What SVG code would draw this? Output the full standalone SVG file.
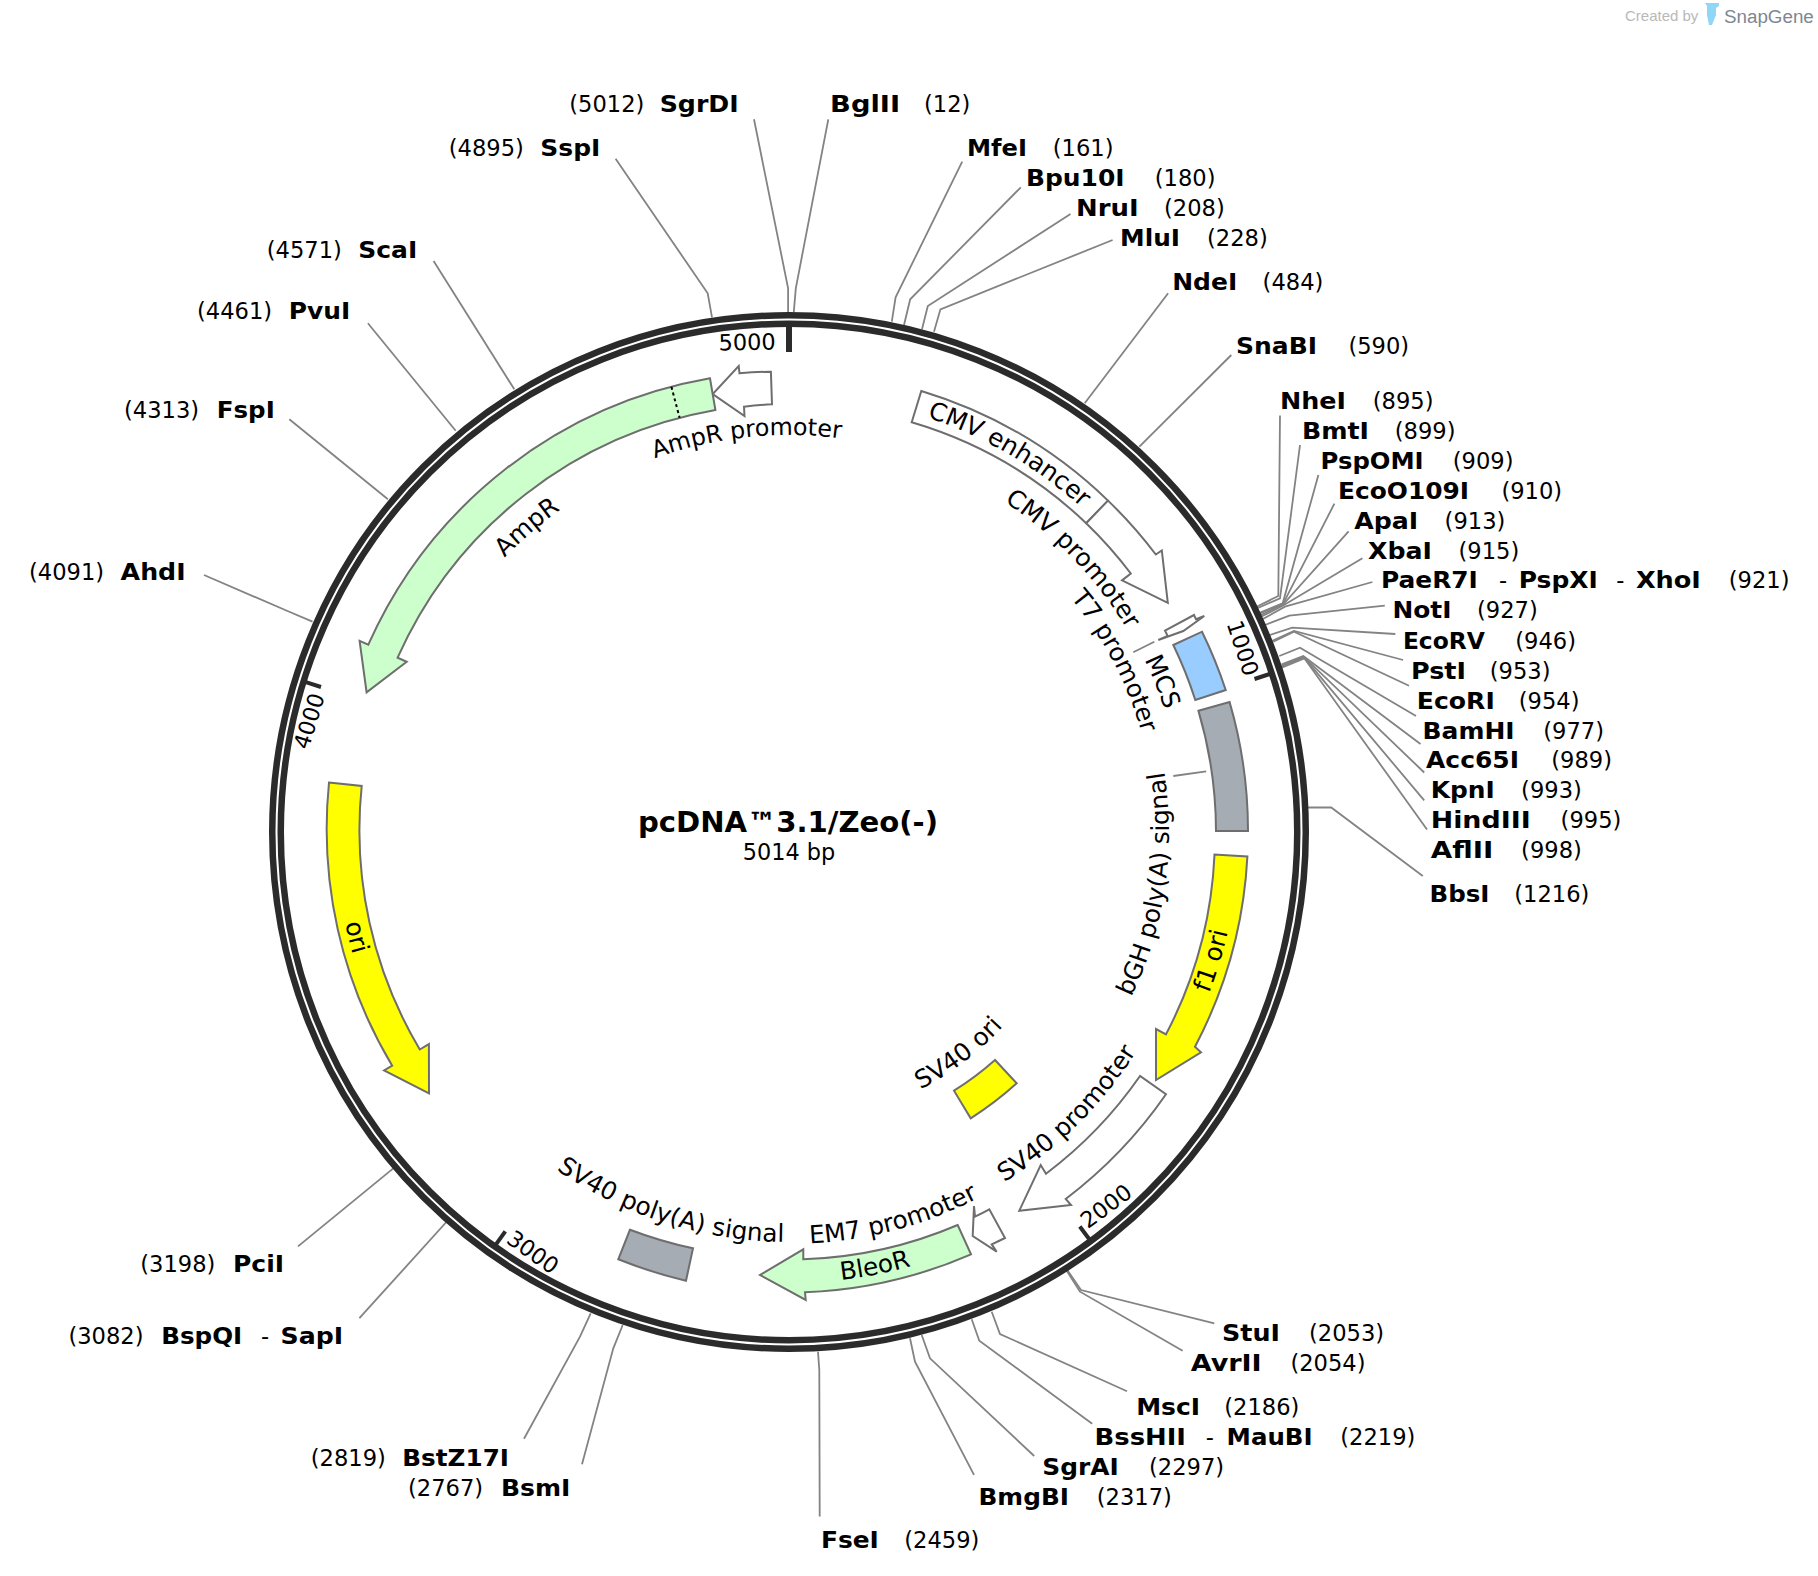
<svg xmlns="http://www.w3.org/2000/svg" width="1818" height="1576" viewBox="0 0 1818 1576">
<style>
text{font-family:"DejaVu Sans",Verdana,sans-serif;fill:#000}
.name{font-size:23px;font-weight:700}
.num{font-size:22.6px}
.lab{font-size:24.8px;text-anchor:middle}
.tick{font-size:22.4px;text-anchor:middle}
.f{stroke:#6e6e6e;stroke-width:2;stroke-linejoin:miter}
.green{fill:#ccffcc}.yellow{fill:#ffff00}.blue{fill:#99ccff}.gray{fill:#a6acb4}.white{fill:#fff}
.ring{fill:none;stroke:#2b2b2b;stroke-width:6.5}
.tk{stroke:#2b2b2b;stroke-width:4;fill:none}
#connectors polyline{fill:none;stroke:#838383;stroke-width:1.8}
</style>
<defs>
<path id="p1" d="M789 1229A397 397 0 1 1 789 435A397 397 0 1 1 789 1229"/>
<path id="p2" d="M789 1227A395 395 0 1 1 789 437A395 395 0 1 1 789 1227"/>
<path id="p3" d="M789 1269A437 437 0 1 1 789 395A437 437 0 1 1 789 1269"/>
<path id="p4" d="M789 1226A394 394 0 1 1 789 438A394 394 0 1 1 789 1226"/>
<path id="p5" d="M789 1198A366 366 0 1 1 789 466A366 366 0 1 1 789 1198"/>
<path id="p7" d="M789 452A380 380 0 1 0 789 1212A380 380 0 1 0 789 452"/>
<path id="p8" d="M789 382A450 450 0 1 0 789 1282A450 450 0 1 0 789 382"/>
<path id="p9" d="M789 421A411 411 0 1 0 789 1243A411 411 0 1 0 789 421"/>
<path id="p10" d="M789 543A289 289 0 1 0 789 1121A289 289 0 1 0 789 543"/>
<path id="p11" d="M789 420A412 412 0 1 0 789 1244A412 412 0 1 0 789 420"/>
<path id="p12" d="M789 381A451 451 0 1 0 789 1283A451 451 0 1 0 789 381"/>
<path id="p13" d="M789 422A410 410 0 1 0 789 1242A410 410 0 1 0 789 422"/>
<path id="p14" d="M789 379A453 453 0 1 0 789 1285A453 453 0 1 0 789 379"/>
</defs>
<rect width="1818" height="1576" fill="#fff"/>
<g id="logo">
<text x="1625" y="21" style="font-family:'Liberation Sans',sans-serif;font-size:15px;fill:#b9b9b9">Created by</text>
<path d="M1705 3H1719V6L1716 8V15L1712 25H1709L1707 15V6Z" fill="#8fd6f8"/>
<text x="1724" y="23" style="font-family:'Liberation Sans',sans-serif;font-size:18.8px;fill:#7d8791">SnapGene</text>
</g>
<g id="connectors">
<polyline points="754,119.3 788.1,288.3 788.1,312"/>
<polyline points="828.3,119.3 795.8,288.3 793.8,312"/>
<polyline points="615.6,158.8 707.7,293.3 712,317.3"/>
<polyline points="962.2,161.7 895.6,297.3 891.8,321.7"/>
<polyline points="1020.8,187.3 910.2,299.3 904,325"/>
<polyline points="1070.5,214 927.8,306 922,329.3"/>
<polyline points="1112.6,240 940.4,309.3 934,331.7"/>
<polyline points="1168.1,293.3 1084.7,403.3"/>
<polyline points="1231.3,355 1139.4,446.7"/>
<polyline points="1280,415.4 1278.3,596 1256.7,606.7"/>
<polyline points="1300,445 1280,598.3 1257.3,608.3"/>
<polyline points="1318.4,475 1282.7,603.3 1258.3,613.3"/>
<polyline points="1334.4,503.6 1283.3,603.3 1258.3,614.3"/>
<polyline points="1348.6,531.4 1283.3,604.3 1259.3,615.7"/>
<polyline points="1362.4,558.2 1284,605 1260,617.3"/>
<polyline points="1372.4,582 1285,606.7 1261,620"/>
<polyline points="1384.8,605.7 1289.3,615.7 1265,625"/>
<polyline points="1395.3,634 1292.3,627.7 1270,635"/>
<polyline points="1403.1,660 1294,631 1272.3,640.7"/>
<polyline points="1409,685.7 1294,631.7 1273.3,641.7"/>
<polyline points="1416,716 1300,647.7 1279.3,656"/>
<polyline points="1420.5,744 1303.3,656 1281.7,664.3"/>
<polyline points="1424.2,772.5 1303.7,656.7 1281.7,665.3"/>
<polyline points="1424.2,800.4 1304,657.3 1281.7,666.3"/>
<polyline points="1427,829.6 1304.3,658.3 1281.7,667.7"/>
<polyline points="1422.8,876 1331.2,807.5 1307,807.5"/>
<polyline points="1214.3,1323.3 1081,1290 1067.3,1270"/>
<polyline points="1182.6,1350.7 1080,1291.7 1066.7,1270.7"/>
<polyline points="1127,1391.3 1000,1334 991.7,1311.7"/>
<polyline points="1092.2,1423.8 979.3,1340.7 971.7,1319.3"/>
<polyline points="1034.2,1456 930,1358.3 921.7,1335"/>
<polyline points="974,1474.8 915,1361.7 910,1338.3"/>
<polyline points="819.7,1516.5 819.3,1370 818,1351.7"/>
<polyline points="582,1464.3 613.3,1348.3 622.7,1325"/>
<polyline points="524,1438.8 580,1336.7 590.7,1313.3"/>
<polyline points="359.4,1318.2 446.4,1222"/>
<polyline points="298,1246.4 394.2,1167.6"/>
<polyline points="204,575 287.5,611 312.5,621.7"/>
<polyline points="289.3,419.3 387.9,499.3"/>
<polyline points="367.9,323.3 455.7,430.7"/>
<polyline points="433.6,260.9 514.3,389.3"/>
<polyline points="1133.3,652.3 1154.3,641.7"/>
<polyline points="1173.3,776 1206.2,771.4"/>
</g>
<g id="backbone">
<circle class="ring" cx="789" cy="832" r="516.75"/>
<circle class="ring" cx="789" cy="832" r="508.25"/>
<path class="tk" d="M1269.7 674L1254.5 679M1089.3 1239.3L1079.8 1226.5M496 1244.4L505.3 1231.4M305.8 682.2L321 687"/>
<path class="tk" style="stroke-width:6" d="M789 326V352"/>
<text class="tick" transform="translate(747,342) rotate(-1)" y="8">5000</text>
<text class="tick" transform="translate(1243,648) rotate(72)" y="8">1000</text>
<text class="tick" transform="translate(1106,1206) rotate(-36.4)" y="8">2000</text>
<text class="tick" transform="translate(533,1252) rotate(35.4)" y="8">3000</text>
<text class="tick" transform="translate(309,721) rotate(-72.8)" y="8">4000</text>
</g>
<g id="feature-AmpR-promoter">
<path class="f white" d="M770.9 371.7A460.5 460.5 0 0 0 739.5 373.3L738.7 366L712.7 394L744.5 416L744 406.7A428 428 0 0 1 772 404.3Z"/>
<text class="lab" style="font-size:23.8px"><textPath href="#p1" startOffset="48.3%">AmpR promoter</textPath></text>
</g>
<g id="feature-AmpR">
<path class="f green" d="M710 378.3A460.5 460.5 0 0 0 368.3 644.7L359.6 640.8L366.6 692.3L406.7 661.8L397.6 657.7A428.5 428.5 0 0 1 715.4 410Z"/>
<path d="M671.4 386.8L679.6 417.7" stroke="#000" stroke-width="2" stroke-dasharray="3 3" fill="none"/>
<text class="lab"><textPath href="#p2" startOffset="38.7%">AmpR</textPath></text>
</g>
<g id="feature-CMV-enhancer">
<path class="f white" d="M921.3 391A460.5 460.5 0 0 1 1108 500.6L1086.2 523.2A428.5 428.5 0 0 0 911.7 422.3Z"/>
<text class="lab"><textPath href="#p3" startOffset="58.4%">CMV enhancer</textPath></text>
</g>
<g id="feature-CMV-promoter">
<path class="f white" d="M1108 500.6A460.5 460.5 0 0 1 1155.8 554.5L1161.8 550.4L1167.8 602.9L1122 580.4L1130.8 573.5A428.5 428.5 0 0 0 1086.2 523.2Z"/>
<text class="lab"><textPath href="#p4" startOffset="62.8%">CMV promoter</textPath></text>
</g>
<g id="feature-T7-promoter">
<path class="f white" d="M1165 630.7L1194 615L1196 619.3L1204.3 616L1183.3 631L1158.3 640L1167.7 636Z"/>
<text class="lab"><textPath href="#p5" startOffset="67.3%">T7 promoter</textPath></text>
</g>
<g id="feature-MCS">
<path class="f blue" d="M1173.3 645L1202 631.7A459 459 0 0 1 1225.7 690L1195.3 700A427 427 0 0 0 1173.3 645Z"/>
<text class="lab"><textPath href="#p2" startOffset="68.9%">MCS</textPath></text>
</g>
<g id="feature-bGH-polyA-signal">
<path class="f gray" d="M1198.4 710.7L1229.6 702.1A459.5 459.5 0 0 1 1248 831L1216 831A427.5 427.5 0 0 0 1198.4 710.7Z"/>
<text class="lab"><textPath href="#p7" startOffset="72.7%">bGH poly(A) signal</textPath></text>
</g>
<g id="feature-f1-ori">
<path class="f yellow" d="M1247.4 856.4A459.5 459.5 0 0 1 1195 1046.7L1201 1052.3L1156 1080L1156 1029L1166 1034.3A427.5 427.5 0 0 0 1214.5 854.6Z"/>
<text class="lab"><textPath href="#p8" startOffset="70.3%">f1 ori</textPath></text>
</g>
<g id="feature-SV40-promoter">
<path class="f white" d="M1166 1094.3A459.5 459.5 0 0 1 1065.7 1199L1071 1205L1019.3 1210.7L1040.7 1165L1046 1173.7A427.5 427.5 0 0 0 1140 1076Z"/>
<text class="lab"><textPath href="#p9" startOffset="62.4%">SV40 promoter</textPath></text>
</g>
<g id="feature-SV40-ori">
<path class="f yellow" d="M954 1090.7A307 307 0 0 0 995 1060L1016.7 1083.3A339 339 0 0 1 970.7 1118.3Z"/>
<text class="lab"><textPath href="#p10" startOffset="60.4%">SV40 ori</textPath></text>
</g>
<g id="feature-EM7-promoter">
<path class="f white" d="M1005 1238A459.5 459.5 0 0 1 991.7 1244.3L996.7 1251.7L972.7 1236L974 1206L975 1216.7A428 428 0 0 0 989.3 1209.3Z"/>
<text class="lab"><textPath href="#p11" startOffset="54.2%">EM7 promoter</textPath></text>
</g>
<g id="feature-BleoR">
<path class="f green" d="M971 1254.3A460 460 0 0 1 805 1292.3L805.7 1300L760 1275L803.3 1249.3L803.3 1259.3A428 428 0 0 0 957.7 1225Z"/>
<text class="lab"><textPath href="#p12" startOffset="53.1%">BleoR</textPath></text>
</g>
<g id="feature-SV40-polyA-signal">
<path class="f gray" d="M630 1229.7L618.3 1259.3A460 460 0 0 0 686 1280.7L693 1248.3A428 428 0 0 1 630 1229.7Z"/>
<text class="lab"><textPath href="#p13" startOffset="45.1%">SV40 poly(A) signal</textPath></text>
</g>
<g id="feature-ori">
<path class="f yellow" d="M329 782.6L361.7 786A428.5 428.5 0 0 0 419.8 1049.5L428.9 1044.1L429 1093.3L384.1 1070.5L392.2 1065.7A460.5 460.5 0 0 1 329 782.6Z"/>
<text class="lab"><textPath href="#p14" startOffset="28.8%">ori</textPath></text>
</g>
<g id="title">
<text x="788" y="832" text-anchor="middle" textLength="300" lengthAdjust="spacingAndGlyphs" style="font-size:28px;font-weight:700">pcDNA™3.1/Zeo(-)</text>
<text class="tick" x="789" y="860">5014 bp</text>
</g>
<g id="site-SgrDI"><text class="num" x="569.3" y="111.5">(5012)</text><text class="name" x="659.7" y="111.5" textLength="79" lengthAdjust="spacingAndGlyphs">SgrDI</text></g>
<g id="site-BglII"><text class="name" x="830.1" y="111.5" textLength="70" lengthAdjust="spacingAndGlyphs">BglII</text><text class="num" x="924" y="111.5">(12)</text></g>
<g id="site-SspI"><text class="num" x="448.7" y="155.5">(4895)</text><text class="name" x="540.3" y="155.5" textLength="60" lengthAdjust="spacingAndGlyphs">SspI</text></g>
<g id="site-MfeI"><text class="name" x="967" y="155.5" textLength="60" lengthAdjust="spacingAndGlyphs">MfeI</text><text class="num" x="1052.7" y="155.5">(161)</text></g>
<g id="site-Bpu10I"><text class="name" x="1026" y="185.5" textLength="98.6" lengthAdjust="spacingAndGlyphs">Bpu10I</text><text class="num" x="1154.8" y="185.5">(180)</text></g>
<g id="site-NruI"><text class="name" x="1076" y="216" textLength="62.6" lengthAdjust="spacingAndGlyphs">NruI</text><text class="num" x="1164" y="216">(208)</text></g>
<g id="site-MluI"><text class="name" x="1120" y="246.2" textLength="60" lengthAdjust="spacingAndGlyphs">MluI</text><text class="num" x="1207" y="246.2">(228)</text></g>
<g id="site-ScaI"><text class="num" x="266.7" y="257.8">(4571)</text><text class="name" x="358.3" y="257.8" textLength="59" lengthAdjust="spacingAndGlyphs">ScaI</text></g>
<g id="site-NdeI"><text class="name" x="1172.2" y="290.2" textLength="65" lengthAdjust="spacingAndGlyphs">NdeI</text><text class="num" x="1262.6" y="290.2">(484)</text></g>
<g id="site-PvuI"><text class="num" x="197" y="319.2">(4461)</text><text class="name" x="288.7" y="319.2" textLength="61.5" lengthAdjust="spacingAndGlyphs">PvuI</text></g>
<g id="site-SnaBI"><text class="name" x="1236" y="354" textLength="81" lengthAdjust="spacingAndGlyphs">SnaBI</text><text class="num" x="1348.4" y="354">(590)</text></g>
<g id="site-FspI"><text class="num" x="124" y="417.8">(4313)</text><text class="name" x="216.8" y="417.8" textLength="58" lengthAdjust="spacingAndGlyphs">FspI</text></g>
<g id="site-NheI"><text class="name" x="1280" y="408.5" textLength="66" lengthAdjust="spacingAndGlyphs">NheI</text><text class="num" x="1372.7" y="408.5">(895)</text></g>
<g id="site-BmtI"><text class="name" x="1302" y="438.6" textLength="67" lengthAdjust="spacingAndGlyphs">BmtI</text><text class="num" x="1394.8" y="438.6">(899)</text></g>
<g id="site-PspOMI"><text class="name" x="1320.6" y="468.8" textLength="103" lengthAdjust="spacingAndGlyphs">PspOMI</text><text class="num" x="1452.7" y="468.8">(909)</text></g>
<g id="site-EcoO109I"><text class="name" x="1338" y="498.9" textLength="131" lengthAdjust="spacingAndGlyphs">EcoO109I</text><text class="num" x="1501.4" y="498.9">(910)</text></g>
<g id="site-ApaI"><text class="name" x="1354.2" y="529" textLength="64" lengthAdjust="spacingAndGlyphs">ApaI</text><text class="num" x="1444.6" y="529">(913)</text></g>
<g id="site-XbaI"><text class="name" x="1368" y="559.2" textLength="64" lengthAdjust="spacingAndGlyphs">XbaI</text><text class="num" x="1458.5" y="559.2">(915)</text></g>
<g id="site-PaeR7I-PspXI-XhoI"><text class="name" x="1380.9" y="588.2" textLength="97" lengthAdjust="spacingAndGlyphs">PaeR7I</text><text class="num" x="1499" y="588.2">-</text><text class="name" x="1518.8" y="588.2" textLength="79" lengthAdjust="spacingAndGlyphs">PspXI</text><text class="num" x="1616.2" y="588.2">-</text><text class="name" x="1635.9" y="588.2" textLength="65" lengthAdjust="spacingAndGlyphs">XhoI</text><text class="num" x="1728.7" y="588.2">(921)</text></g>
<g id="site-NotI"><text class="name" x="1392.4" y="618.3" textLength="59" lengthAdjust="spacingAndGlyphs">NotI</text><text class="num" x="1477" y="618.3">(927)</text></g>
<g id="site-EcoRV"><text class="name" x="1402.9" y="648.5" textLength="82" lengthAdjust="spacingAndGlyphs">EcoRV</text><text class="num" x="1515.3" y="648.5">(946)</text></g>
<g id="site-PstI"><text class="name" x="1411" y="678.5" textLength="55" lengthAdjust="spacingAndGlyphs">PstI</text><text class="num" x="1489.8" y="678.5">(953)</text></g>
<g id="site-EcoRI"><text class="name" x="1416.8" y="708.8" textLength="78" lengthAdjust="spacingAndGlyphs">EcoRI</text><text class="num" x="1518.8" y="708.8">(954)</text></g>
<g id="site-BamHI"><text class="name" x="1422.6" y="738.9" textLength="92" lengthAdjust="spacingAndGlyphs">BamHI</text><text class="num" x="1543.2" y="738.9">(977)</text></g>
<g id="site-Acc65I"><text class="name" x="1426" y="768" textLength="93" lengthAdjust="spacingAndGlyphs">Acc65I</text><text class="num" x="1551.3" y="768">(989)</text></g>
<g id="site-KpnI"><text class="name" x="1430.7" y="798" textLength="64" lengthAdjust="spacingAndGlyphs">KpnI</text><text class="num" x="1521.1" y="798">(993)</text></g>
<g id="site-HindIII"><text class="name" x="1430.7" y="828.2" textLength="100" lengthAdjust="spacingAndGlyphs">HindIII</text><text class="num" x="1560.6" y="828.2">(995)</text></g>
<g id="site-AflII"><text class="name" x="1430.7" y="858.3" textLength="62.6" lengthAdjust="spacingAndGlyphs">AflII</text><text class="num" x="1521.1" y="858.3">(998)</text></g>
<g id="site-BbsI"><text class="name" x="1429.5" y="902.4" textLength="60" lengthAdjust="spacingAndGlyphs">BbsI</text><text class="num" x="1514.2" y="902.4">(1216)</text></g>
<g id="site-AhdI"><text class="num" x="29" y="580">(4091)</text><text class="name" x="120.6" y="580" textLength="65" lengthAdjust="spacingAndGlyphs">AhdI</text></g>
<g id="site-StuI"><text class="name" x="1222" y="1340.5" textLength="58" lengthAdjust="spacingAndGlyphs">StuI</text><text class="num" x="1309" y="1340.5">(2053)</text></g>
<g id="site-AvrII"><text class="name" x="1190.7" y="1370.8" textLength="71" lengthAdjust="spacingAndGlyphs">AvrII</text><text class="num" x="1290.4" y="1370.8">(2054)</text></g>
<g id="site-MscI"><text class="name" x="1136.2" y="1414.9" textLength="64" lengthAdjust="spacingAndGlyphs">MscI</text><text class="num" x="1224.3" y="1414.9">(2186)</text></g>
<g id="site-BssHII-MauBI"><text class="name" x="1094.5" y="1445" textLength="91.5" lengthAdjust="spacingAndGlyphs">BssHII</text><text class="num" x="1205.8" y="1445">-</text><text class="name" x="1226.6" y="1445" textLength="86" lengthAdjust="spacingAndGlyphs">MauBI</text><text class="num" x="1340.3" y="1445">(2219)</text></g>
<g id="site-SgrAI"><text class="name" x="1042.3" y="1475" textLength="76.5" lengthAdjust="spacingAndGlyphs">SgrAI</text><text class="num" x="1149" y="1475">(2297)</text></g>
<g id="site-BmgBI"><text class="name" x="978.5" y="1505.3" textLength="90.5" lengthAdjust="spacingAndGlyphs">BmgBI</text><text class="num" x="1096.8" y="1505.3">(2317)</text></g>
<g id="site-FseI"><text class="name" x="820.9" y="1548.2" textLength="58" lengthAdjust="spacingAndGlyphs">FseI</text><text class="num" x="904.3" y="1548.2">(2459)</text></g>
<g id="site-PciI"><text class="num" x="140.3" y="1272.2">(3198)</text><text class="name" x="233" y="1272.2" textLength="51" lengthAdjust="spacingAndGlyphs">PciI</text></g>
<g id="site-BspQI-SapI"><text class="num" x="68.4" y="1344">(3082)</text><text class="name" x="161.2" y="1344" textLength="81" lengthAdjust="spacingAndGlyphs">BspQI</text><text class="num" x="260.9" y="1344">-</text><text class="name" x="280.6" y="1344" textLength="62.6" lengthAdjust="spacingAndGlyphs">SapI</text></g>
<g id="site-BstZ17I"><text class="num" x="310.7" y="1465.9">(2819)</text><text class="name" x="402.3" y="1465.9" textLength="106.7" lengthAdjust="spacingAndGlyphs">BstZ17I</text></g>
<g id="site-BsmI"><text class="num" x="408" y="1496">(2767)</text><text class="name" x="500.9" y="1496" textLength="69.5" lengthAdjust="spacingAndGlyphs">BsmI</text></g>
</svg>
